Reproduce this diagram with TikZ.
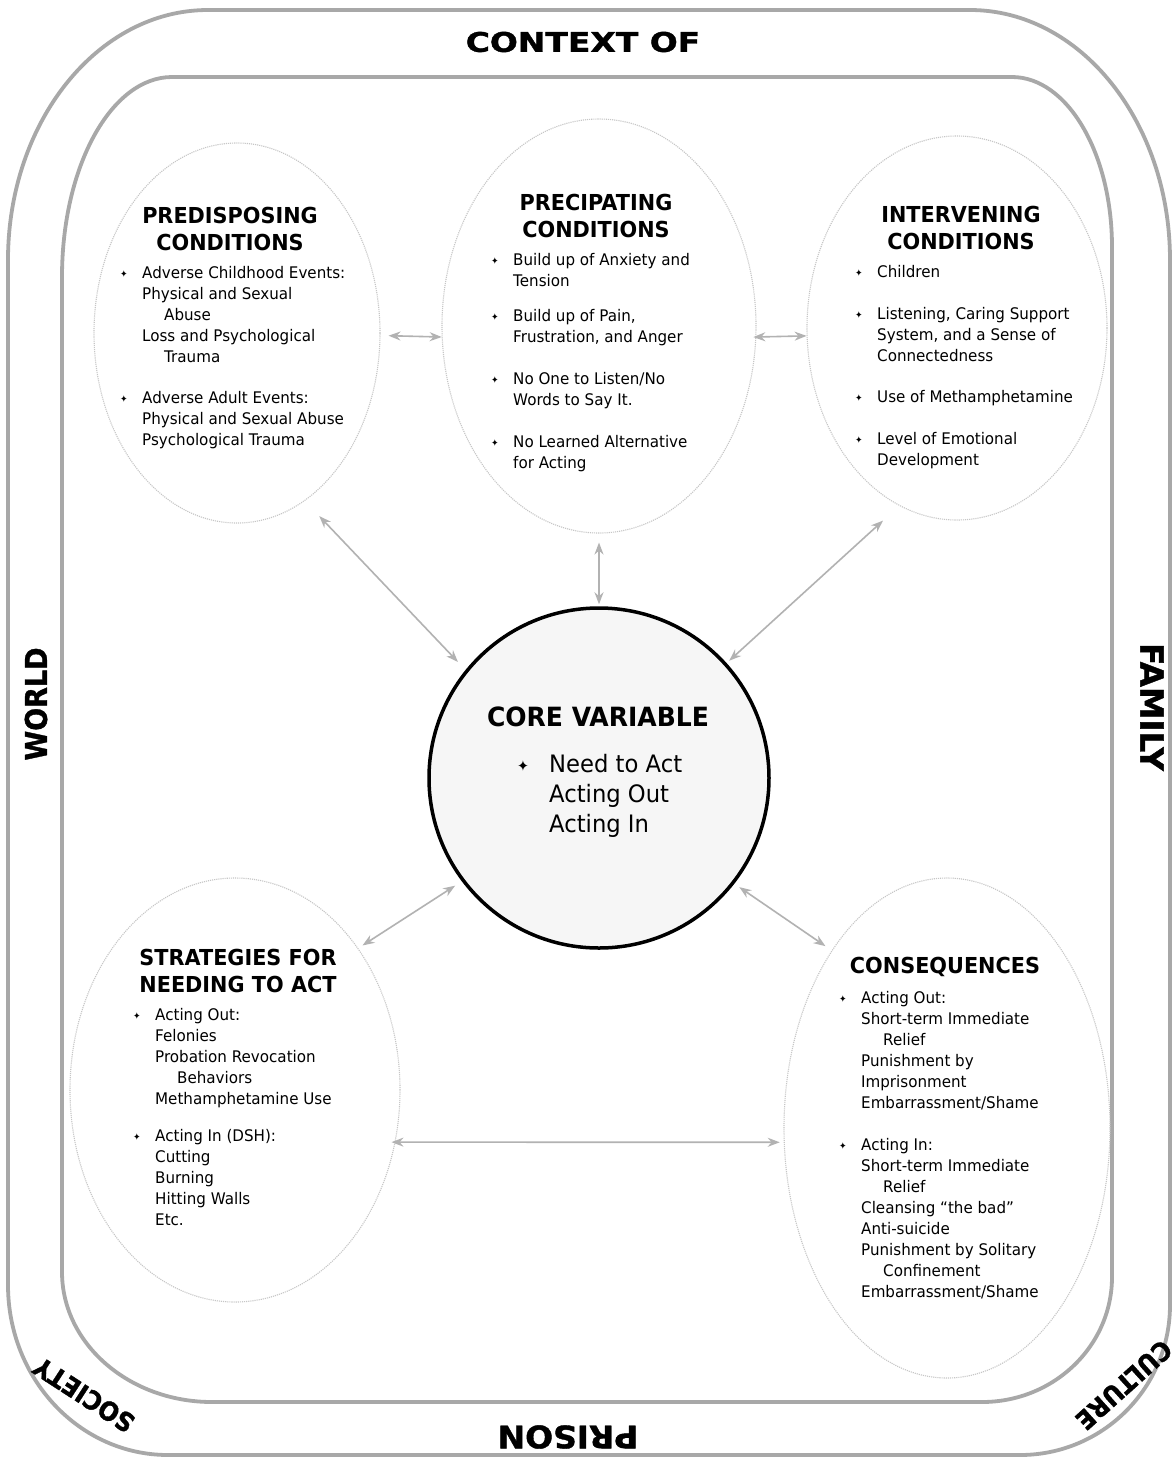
\documentclass[tikz,border=0pt]{standalone}
\usepackage{fontspec}
\usepackage{graphicx}
\setmainfont{DejaVu Sans}[FakeStretch=0.945]
\newfontfamily\heavyfont{DejaVu Sans}[BoldFeatures={FakeBold=1.2}]
\usetikzlibrary{shapes.geometric,arrows.meta}
\newcommand\bul{\makebox[22pt][l]{\raisebox{0.5pt}{\fontsize{9.5}{9.5}\selectfont ✦}}}
\newcommand\ind{\hspace*{22pt}}
\newcommand\indd{\hspace*{44pt}}
\newcommand\bigword[3]{\scalebox{#2}[1]{\heavyfont\bfseries\fontsize{#1}{#1}\selectfont #3}}
\begin{document}
\begin{tikzpicture}[x=1pt,y=-1pt,
  frame/.style={draw=gray!68, line width=3.8pt},
  oval/.style={ellipse, draw=gray!45, line width=1.1pt, densely dotted, inner sep=0pt},
  rel/.style={draw=gray!60, line width=1.6pt, arrows={Stealth[length=12pt,width=9pt]-Stealth[length=12pt,width=9pt]}},
  title/.style={font=\fontsize{22}{27}\selectfont\bfseries, align=center, inner sep=0pt},
  body/.style={font=\fontsize{16}{21}\selectfont, align=left, inner sep=0pt, anchor=north west},
  big/.style={inner sep=0pt}]
\useasboundingbox (0,0) rectangle (1176,1460);
\fill[white] (0,0) rectangle (1176,1460);
% outer frame
\draw[frame] (8,260) .. controls (8,122) and (97.5,10) .. (208,10)
  -- (970,10) .. controls (1080.5,10) and (1170,122) .. (1170,260)
  -- (1170,1305) .. controls (1170,1387.8) and (1102.8,1455) .. (1020,1455)
  -- (168,1455) .. controls (79.6,1455) and (8,1378.9) .. (8,1285) -- cycle;
% inner frame
\draw[frame] (62,277) .. controls (62,166.5) and (111.2,77) .. (172,77)
  -- (1012,77) .. controls (1067.2,77) and (1112,153.1) .. (1112,247)
  -- (1112,1277) .. controls (1112,1346) and (1053.8,1402) .. (982,1402)
  -- (212,1402) .. controls (129.2,1402) and (62,1343.8) .. (62,1272) -- cycle;
% labels on frame
\node[big] (ctx) at (583,42) {\bigword{27}{1.22}{CONTEXT OF}};
\node[big, rotate=90] (world) at (36,704) {\bigword{30}{0.9}{WORLD}};
\node[big, rotate=-90] (family) at (1152,707) {\bigword{32}{1.02}{FAMILY}};
\node[big, rotate=180] (prison) at (568,1437) {\bigword{31}{1.06}{PRISON}};
\node[big, rotate=147] (society) at (84,1395) {\bigword{26}{0.92}{SOCIETY}};
\node[big, rotate=222] (culture) at (1124,1385) {\bigword{26}{0.92}{CULTURE}};
% ovals
\node[oval, minimum width=286pt, minimum height=380pt] (pre) at (237,333) {};
\node[oval, minimum width=314pt, minimum height=414pt] (prec) at (599,326) {};
\node[oval, minimum width=300pt, minimum height=384pt] (int) at (957,328) {};
\node[oval, minimum width=330pt, minimum height=424pt] (strat) at (235,1090) {};
\node[oval, minimum width=326pt, minimum height=500pt] (cons) at (947,1128) {};
\node[circle, draw=black, line width=3.5pt, fill=gray!7, minimum size=340pt, inner sep=0pt] (core) at (599,778) {};
% titles
\node[title] (pretitle) at (230,228.5) {PREDISPOSING\\CONDITIONS};
\node[title] (prectitle) at (596,215.5) {PRECIPATING\\CONDITIONS};
\node[title] (inttitle) at (961,227.5) {INTERVENING\\CONDITIONS};
\node[title] (strattitle) at (238,970.5) {STRATEGIES FOR\\NEEDING TO ACT};
\node[title] (constitle) at (945,967) {CONSEQUENCES};
\node[title, font=\fontsize{26.5}{30}\selectfont\bfseries] (coretitle) at (598,717) {CORE VARIABLE};
% bodies
\node[body] (prebody) at (120,266) {\bul Adverse Childhood Events:\\
\ind Physical and Sexual\\
\indd Abuse\\
\ind Loss and Psychological\\
\indd Trauma\\[20pt]
\bul Adverse Adult Events:\\
\ind Physical and Sexual Abuse\\
\ind Psychological Trauma};
\node[body] (precbody) at (491,253) {\bul Build up of Anxiety and\\
\ind Tension\\[14pt]
\bul Build up of Pain,\\
\ind Frustration, and Anger\\[21pt]
\bul No One to Listen/No\\
\ind Words to Say It.\\[21pt]
\bul No Learned Alternative\\
\ind for Acting};
\node[body] (intbody) at (855,265) {\bul Children\\[21pt]
\bul Listening, Caring Support\\
\ind System, and a Sense of\\
\ind Connectedness\\[20pt]
\bul Use of Methamphetamine\\[21pt]
\bul Level of Emotional\\
\ind Development};
\node[body] (stratbody) at (133,1008) {\bul Acting Out:\\
\ind Felonies\\
\ind Probation Revocation\\
\indd Behaviors\\
\ind Methamphetamine Use\\[16pt]
\bul Acting In (DSH):\\
\ind Cutting\\
\ind Burning\\
\ind Hitting Walls\\
\ind Etc.};
\node[body] (consbody) at (839,991) {\bul Acting Out:\\
\ind Short-term Immediate\\
\indd Relief\\
\ind Punishment by\\
\ind Imprisonment\\
\ind Embarrassment/Shame\\[21pt]
\bul Acting In:\\
\ind Short-term Immediate\\
\indd Relief\\
\ind Cleansing “the bad”\\
\ind Anti-suicide\\
\ind Punishment by Solitary\\
\indd Confinement\\
\ind Embarrassment/Shame};
\node[body, font=\fontsize{24}{30}\selectfont] (corebody) at (517,754) {\makebox[32pt][l]{\raisebox{1pt}{\fontsize{15}{15}\selectfont ✦}}Need to Act\\
\hspace*{32pt}Acting Out\\
\hspace*{32pt}Acting In};
% connectors
\draw[rel, shorten <=8pt] (pre.-1.5) -- (prec.184);
\draw[rel, shorten <=-3pt] (prec.-4) -- (int.183.4);
\draw[rel, shorten <=21pt, shorten >=11pt] (pre.-68.5) -- (core.141.8);
\draw[rel, shorten <=9pt, shorten >=2pt] (prec.south) -- (core.north);
\draw[rel, shorten <=22pt, shorten >=3.5pt] (int.-108.4) -- (core.42);
\draw[rel, shorten <=5pt, shorten >=8pt] (strat.49.3) -- (core.217.7);
\draw[rel, shorten <=6pt, shorten >=7.5pt] (core.-38.8) -- (cons.123.4);
\draw[rel, shorten <=-4pt, shorten >=4pt] (strat.-18.3) -- (cons.185.3);
\end{tikzpicture}
\end{document}
